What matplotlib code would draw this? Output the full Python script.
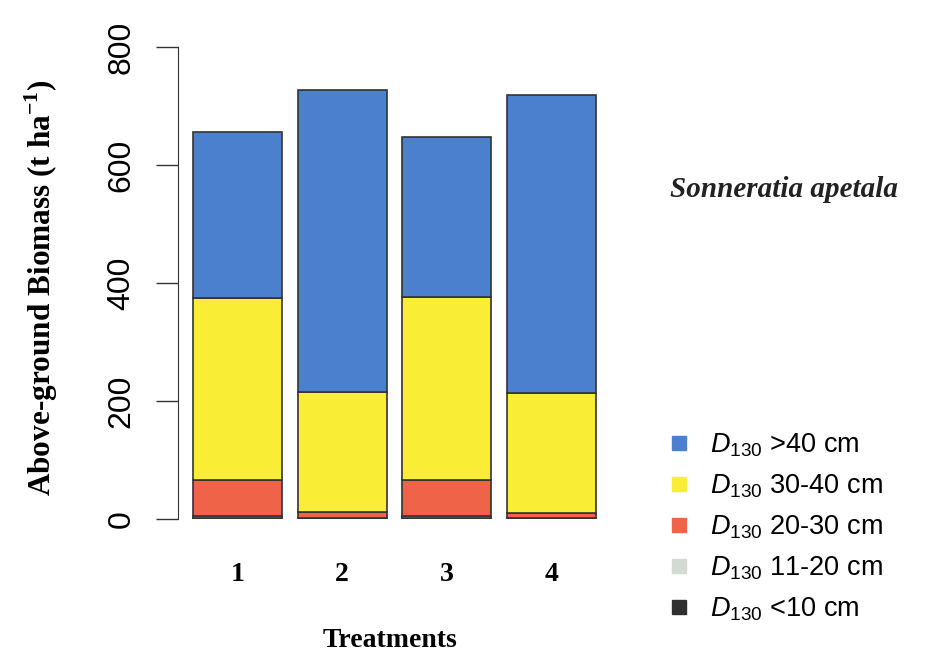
import matplotlib
matplotlib.use("Agg")
import matplotlib.pyplot as plt
from matplotlib.lines import Line2D
import numpy as np

plt.rcParams['font.family'] = ['Liberation Sans', 'DejaVu Sans']
plt.rcParams['mathtext.fontset'] = 'custom'
plt.rcParams['mathtext.it'] = 'Liberation Sans:italic'
plt.rcParams['mathtext.rm'] = 'Liberation Sans'

# biomass per diameter class (t/ha), stacked bottom -> top
treatments = ['1', '2', '3', '4']
lt10 = [1, 1, 1, 1]
d11_20 = [4, 1, 4, 1]
d20_30 = [62, 10, 62, 9]
d30_40 = [308, 203, 310, 202]
gt40 = [281, 512, 271, 506]

classes = [lt10, d11_20, d20_30, d30_40, gt40]
colors = ['#2f2f2f', '#d3dad3', '#ef6449', '#f9ee35', '#4b80cf']
labels = [r'$D_{130}$ <10 cm', r'$D_{130}$ 11-20 cm', r'$D_{130}$ 20-30 cm',
          r'$D_{130}$ 30-40 cm', r'$D_{130}$ >40 cm']

fig = plt.figure(figsize=(9.27, 6.57), dpi=100)
ax = fig.add_axes([0.192, 0.210, 0.467, 0.7184])

x = np.arange(len(treatments))
bottom = np.zeros(len(treatments))
for vals, c in zip(classes, colors):
    ax.bar(x, vals, width=0.85, bottom=bottom, color=c,
           edgecolor='#333333', linewidth=1.2)
    bottom += np.array(vals)

ax.set_xlim(-0.57, 3.57)
ax.set_ylim(0, 800)
for s in ['top', 'right', 'bottom']:
    ax.spines[s].set_visible(False)
ax.spines['left'].set_bounds(0, 800)
ax.spines['left'].set_color('#333333')

ax.set_yticks([0, 200, 400, 600, 800])
ax.tick_params(axis='y', length=16, width=1, color='#333333', pad=14,
               labelsize=23, labelrotation=90)
for t in ax.get_yticklabels():
    t.set_va('center')

ax.set_xticks(x)
ax.set_xticklabels(treatments, fontfamily='Liberation Serif',
                   fontweight='bold', fontsize=20)
ax.tick_params(axis='x', length=0, pad=31)

ax.set_xlabel('Treatments', fontfamily='Liberation Serif',
              fontweight='bold', fontsize=20, va='center')
ax.xaxis.set_label_coords(0.49, -0.258)
ax.set_ylabel(r'Above-ground Biomass (t ha$^{\mathregular{-1}}$)',
              fontfamily='Liberation Serif', fontweight='bold',
              fontsize=22.5, va='center')
ax.yaxis.set_label_coords(-0.317, 0.49)

fig.text(0.846, 0.711, 'Sonneratia apetala', fontfamily='Liberation Serif',
         fontweight='bold', fontstyle='italic', fontsize=21,
         ha='center', va='center', color='#222222')

handles = [Line2D([], [], marker='s', linestyle='none', markersize=9.5,
                  color=c) for c in colors]
fig.legend(handles[::-1], labels[::-1], loc='upper left',
           bbox_to_anchor=(0.705, 0.364), frameon=False, fontsize=19.5,
           handlelength=0.9, handletextpad=0.7, labelspacing=0.5,
           borderpad=0)

fig.savefig('out.png', dpi=100)
